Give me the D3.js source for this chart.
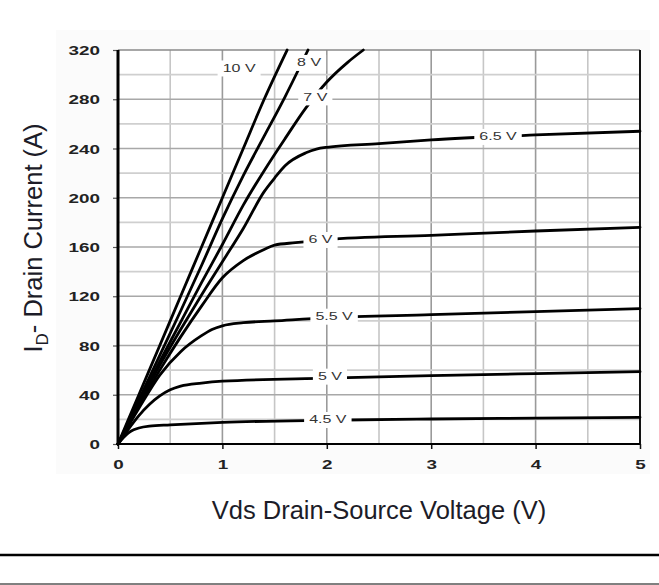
<!DOCTYPE html>
<html>
<head>
<meta charset="utf-8">
<script src="https://cdn.jsdelivr.net/npm/d3@7"></script>
<style>
  body { margin: 0; background: #fff; }
  svg { display: block; }
</style>
</head>
<body>
<div id="chart"></div>
<script>
"use strict";

// Vds (V) / Id (A) points
var vgs45 = [[0,0],[0.05,5],[0.1,9],[0.15,11.5],[0.2,13],[0.3,14.5],[0.5,15.5],[1,17.5],[2,19.3],[3,20.3],[4,21],[5,21.7]];
var vgs5  = [[0,0],[0.1,12],[0.2,23],[0.3,32],[0.4,39],[0.5,44],[0.6,47],[0.8,49.5],[1,51],[2,53.5],[3,55.5],[4,57.2],[5,58.8]];
var vgs55 = [[0,0],[0.2,29],[0.4,56],[0.6,75],[0.8,88],[0.9,93],[1,96],[1.2,98.5],[1.5,100],[2,102.5],[3,105],[4,107.5],[5,110]];
var vgs6  = [[0,0],[0.2,31],[0.4,60],[0.6,87],[0.8,112],[1,135],[1.2,149],[1.4,158],[1.5,161.5],[1.7,163.5],[2,166],[3,169.5],[4,173],[5,176]];
var vgs65 = [[0,0],[0.2,33],[0.4,64],[0.6,93],[0.8,121],[1,148],[1.2,175],[1.4,205],[1.5,216],[1.6,226],[1.8,236.5],[1.9,239.5],[2,241],[2.5,244],[3,247],[4,251],[5,254]];
var vgs7  = [[0,0],[0.2,34],[0.4,67],[0.6,99],[0.8,131],[1,162],[1.2,194],[1.4,222],[1.6,248],[1.8,273],[2,294],[2.2,310],[2.35,320]];
var vgs8  = [[0,0],[0.2,36],[0.4,72],[0.6,108],[0.8,145],[1,183],[1.2,218],[1.4,250],[1.6,282],[1.82,320]];
var vgs10 = [[0,0],[0.2,40],[0.4,80],[0.6,120],[0.8,160],[1,200],[1.2,240],[1.4,280],[1.62,320]];

var curves = [vgs45, vgs5, vgs55, vgs6, vgs65, vgs7, vgs8, vgs10];
var curveNames = ["4.5 V", "5 V", "5.5 V", "6 V", "6.5 V", "7 V", "8 V", "10 V"];
// where each label sits, [Vds, Id]
var labelPos = [[2.01,19.5],[2.03,54.7],[2.07,103.4],[1.94,165.7],[3.64,249.4],[1.89,281.5],[1.83,309.5],[1.16,305]];

var xTicks = [0, 1, 2, 3, 4, 5];
var yTicks = [0, 40, 80, 120, 160, 200, 240, 280, 320];
var xGrid = [0.5, 1, 1.5, 2, 2.5, 3, 3.5, 4, 4.5];
var yGrid = [20, 40, 60, 80, 100, 120, 140, 160, 180, 200, 220, 240, 260, 280, 300];

var W = 659, H = 585;
var plotL = 118, plotR = 640, plotT = 50, plotB = 444;

var svg = d3.select("#chart").append("svg")
  .attr("width", W)
  .attr("height", H);

// faint backdrop behind the plot block
svg.append("rect")
  .attr("x", 56).attr("y", 30)
  .attr("width", 594).attr("height", 444)
  .attr("fill", "#fbfbfb");

var x = d3.scaleLinear().domain([0, 5]).range([plotL, plotR]);
var y = d3.scaleLinear().domain([0, 320]).range([plotB, plotT]);

svg.append("rect")
  .attr("x", plotL).attr("y", plotT)
  .attr("width", plotR - plotL).attr("height", plotB - plotT)
  .attr("fill", "#fff");

// grid
var g = svg.append("g");
g.selectAll(".vgrid").data(xGrid).enter().append("line")
  .attr("x1", function(d){ return x(d); })
  .attr("x2", function(d){ return x(d); })
  .attr("y1", y(0)).attr("y2", y(320))
  .attr("stroke", function(d){ return d % 1 === 0 ? "#9a9a9a" : "#c6c6c6"; })
  .attr("stroke-width", 1.6);
g.selectAll(".hgrid").data(yGrid).enter().append("line")
  .attr("x1", x(0)).attr("x2", x(5))
  .attr("y1", function(d){ return y(d); })
  .attr("y2", function(d){ return y(d); })
  .attr("stroke", function(d){ return d % 40 === 0 ? "#a8a8a8" : "#cfcfcf"; })
  .attr("stroke-width", 1.6);

// frame
svg.append("line").attr("x1", x(0)).attr("x2", x(5)).attr("y1", y(320)).attr("y2", y(320))
  .attr("stroke", "#8a8a8a").attr("stroke-width", 1.6);
svg.append("line").attr("x1", x(5)).attr("x2", x(5)).attr("y1", y(0)).attr("y2", y(320))
  .attr("stroke", "#111").attr("stroke-width", 2);

// axes
var xAxis = svg.append("g")
  .attr("transform", "translate(0," + plotB + ")")
  .call(d3.axisBottom(x).tickValues(xTicks).tickSize(5).tickFormat(d3.format("d")));
var yAxis = svg.append("g")
  .attr("transform", "translate(" + plotL + ",0)")
  .call(d3.axisLeft(y).tickValues(yTicks).tickSize(5).tickFormat(d3.format("d")));

xAxis.select(".domain").remove();
yAxis.select(".domain").remove();
xAxis.selectAll("line").attr("stroke", "#111").attr("stroke-width", 1.5);
yAxis.selectAll("line").attr("stroke", "#555").attr("stroke-width", 1.2);

xAxis.selectAll("text")
  .attr("y", 20).attr("dy", "0.35em")
  .attr("font-family", "Arial, 'Liberation Sans', sans-serif")
  .attr("font-size", "13px").attr("font-weight", "bold")
  .attr("fill", "#222")
  .attr("transform", "scale(1.45,1)");
yAxis.selectAll("text")
  .attr("x", -18 / 1.45).attr("dy", "0.35em")
  .attr("font-family", "Arial, 'Liberation Sans', sans-serif")
  .attr("font-size", "13px").attr("font-weight", "bold")
  .attr("fill", "#222")
  .attr("transform", "scale(1.45,1)");

svg.append("line").attr("x1", x(0)).attr("x2", x(5)).attr("y1", y(0)).attr("y2", y(0))
  .attr("stroke", "#000").attr("stroke-width", 2);
svg.append("line").attr("x1", x(0)).attr("x2", x(0)).attr("y1", y(0)).attr("y2", y(320))
  .attr("stroke", "#000").attr("stroke-width", 3);

// curves
var line = d3.line()
  .x(function(d){ return x(d[0]); })
  .y(function(d){ return y(d[1]); })
  .curve(d3.curveMonotoneX);

svg.append("g").selectAll("path").data(curves).enter().append("path")
  .attr("d", line)
  .attr("fill", "none")
  .attr("stroke", "#000")
  .attr("stroke-width", 2.8)
  .attr("stroke-linecap", "round");

// curve labels on white patches
var lab = svg.append("g").selectAll("g").data(curveNames).enter().append("g")
  .attr("transform", function(d, i){
    return "translate(" + x(labelPos[i][0]) + "," + y(labelPos[i][1]) + ")";
  });
lab.append("text")
  .text(function(d){ return d; })
  .attr("text-anchor", "middle")
  .attr("dy", "0.35em")
  .attr("font-family", "Arial, 'Liberation Sans', sans-serif")
  .attr("font-size", "10px")
  .attr("fill", "#333")
  .attr("transform", "scale(1.6,1)");
lab.each(function(){
  var grp = d3.select(this);
  var w = grp.select("text").node().getBBox().width * 1.6;
  grp.insert("rect", "text")
    .attr("x", -w / 2 - 5).attr("y", -8)
    .attr("width", w + 10).attr("height", 16)
    .attr("fill", "#fff");
});

// titles
svg.append("text")
  .text("Vds Drain-Source Voltage (V)")
  .attr("x", 379).attr("y", 519)
  .attr("text-anchor", "middle")
  .attr("font-family", "Arial, 'Liberation Sans', sans-serif")
  .attr("font-size", "25.5px")
  .attr("fill", "#1c1c28");

var yt = svg.append("text")
  .attr("transform", "translate(42,238) rotate(-90)")
  .attr("text-anchor", "middle")
  .attr("font-family", "Arial, 'Liberation Sans', sans-serif")
  .attr("font-size", "25.5px")
  .attr("fill", "#1c1c28");
yt.append("tspan").text("I");
yt.append("tspan").text("D").attr("font-size", "17px").attr("dy", 6);
yt.append("tspan").text("- Drain Current (A)").attr("dy", -6);

// rules below the chart
svg.append("line").attr("x1", 0).attr("x2", W).attr("y1", 555).attr("y2", 555)
  .attr("stroke", "#000").attr("stroke-width", 2.5);
svg.append("line").attr("x1", 0).attr("x2", W).attr("y1", 584).attr("y2", 584)
  .attr("stroke", "#000").attr("stroke-width", 1);
</script>
</body>
</html>
